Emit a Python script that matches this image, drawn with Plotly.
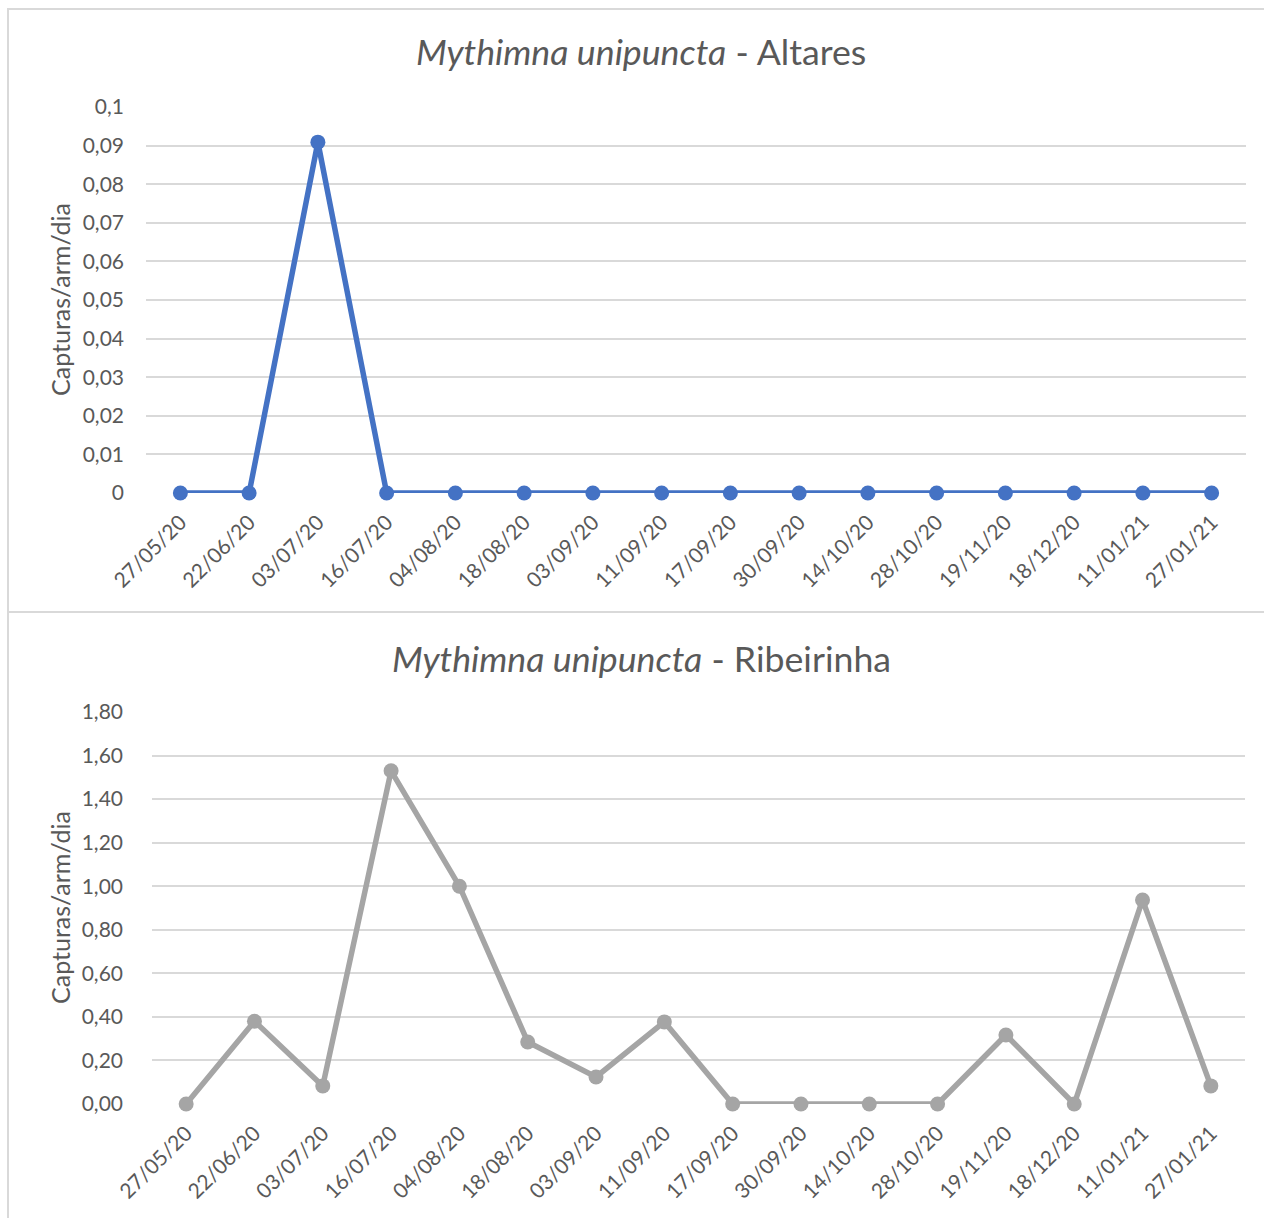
import plotly.graph_objects as go

dates = ["27/05/20", "22/06/20", "03/07/20", "16/07/20", "04/08/20", "18/08/20",
         "03/09/20", "11/09/20", "17/09/20", "30/09/20", "14/10/20", "28/10/20",
         "19/11/20", "18/12/20", "11/01/21", "27/01/21"]
altares = [0, 0, 0.0909, 0, 0, 0, 0, 0, 0, 0, 0, 0, 0, 0, 0, 0]
ribeirinha = [0, 0.38, 0.083, 1.53, 1.00, 0.285, 0.124, 0.377, 0, 0, 0, 0,
              0.317, 0, 0.937, 0.083]

top_ticks = [0, 0.01, 0.02, 0.03, 0.04, 0.05, 0.06, 0.07, 0.08, 0.09, 0.1]
top_ticktext = ["0", "0,01", "0,02", "0,03", "0,04", "0,05", "0,06", "0,07", "0,08", "0,09", "0,1"]
bot_ticks = [0, 0.2, 0.4, 0.6, 0.8, 1.0, 1.2, 1.4, 1.6, 1.8]
bot_ticktext = ["0,00", "0,20", "0,40", "0,60", "0,80", "1,00", "1,20", "1,40", "1,60", "1,80"]

W, H = 1264, 1218
def px(x): return x / W
def py(y): return 1 - y / H

FONT = "Lato"
TXT = "#595959"
GRID = "#D9D9D9"

fig = go.Figure()
fig.add_trace(go.Scatter(x=dates, y=altares, mode="lines+markers", xaxis="x", yaxis="y",
                         line=dict(color="#4472C4", width=5.5), cliponaxis=False,
                         marker=dict(color="#4472C4", size=15), showlegend=False))
fig.add_trace(go.Scatter(x=dates, y=ribeirinha, mode="lines+markers", xaxis="x2", yaxis="y2",
                         line=dict(color="#A5A5A5", width=5.5), cliponaxis=False,
                         marker=dict(color="#A5A5A5", size=15), showlegend=False))

xcommon = dict(type="category", range=[-0.5, 15.5], showgrid=False, zeroline=False,
               showline=False, ticks="", tickangle=-45, automargin=False,
               tickfont=dict(family=FONT, size=21, color=TXT), ticklabelstandoff=12)
ycommon = dict(showgrid=True, gridcolor=GRID, gridwidth=1.5, zeroline=False, showline=False,
               ticks="", automargin=False, tickfont=dict(family=FONT, size=21, color=TXT))

fig.update_layout(
    template="none",
    width=W, height=H, margin=dict(l=0, r=0, t=0, b=0, pad=0), autosize=False,
    paper_bgcolor="white", plot_bgcolor="white",
    xaxis=dict(**xcommon, domain=[px(146), px(1246)], anchor="y"),
    yaxis=dict(**ycommon, domain=[py(493), py(107)], range=[0, 0.1], anchor="x",
               tickvals=top_ticks, ticktext=top_ticktext, ticklabelstandoff=21),
    xaxis2=dict(**xcommon, domain=[px(152), px(1245)], anchor="y2"),
    yaxis2=dict(**ycommon, domain=[py(1104), py(712)], range=[0, 1.8], anchor="x2",
                tickvals=bot_ticks, ticktext=bot_ticktext, ticklabelstandoff=28),
    shapes=[
        dict(type="rect", xref="paper", yref="paper", x0=px(8), x1=1.01, y0=py(612), y1=py(9),
             line=dict(color=GRID, width=2), layer="below"),
        dict(type="rect", xref="paper", yref="paper", x0=px(8), x1=1.01, y0=-0.01, y1=py(612),
             line=dict(color=GRID, width=2), layer="below"),
    ],
    annotations=[
        dict(text="<i>Mythimna unipuncta</i> - Altares", x=px(641), y=py(52), xref="paper", yref="paper",
             xanchor="center", yanchor="middle",
             showarrow=False, font=dict(family=FONT, size=35.7, color=TXT)),
        dict(text="<i>Mythimna unipuncta</i> - Ribeirinha", x=px(641), y=py(658), xref="paper", yref="paper",
             xanchor="center", yanchor="middle",
             showarrow=False, font=dict(family=FONT, size=35.7, color=TXT)),
        dict(text="Capturas/arm/dia", x=px(60), y=py(300), xref="paper", yref="paper", textangle=-90,
             xanchor="center", yanchor="middle",
             showarrow=False, font=dict(family=FONT, size=25, color=TXT)),
        dict(text="Capturas/arm/dia", x=px(60), y=py(908), xref="paper", yref="paper", textangle=-90,
             xanchor="center", yanchor="middle",
             showarrow=False, font=dict(family=FONT, size=25, color=TXT)),
    ],
)

fig.write_html("out.html", config={"displayModeBar": False})
with open("out.html", "r", encoding="utf-8") as f:
    html = f.read()
html = html.replace("<head>", "<head><style>html,body{margin:0;padding:0;overflow:hidden;}</style>", 1)
with open("out.html", "w", encoding="utf-8") as f:
    f.write(html)
